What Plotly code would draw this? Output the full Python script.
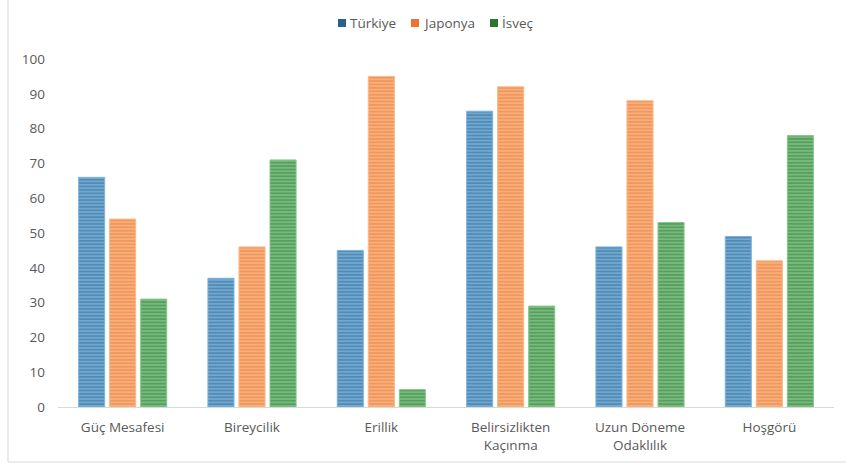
import plotly.graph_objects as go

categories = ["Güç Mesafesi", "Bireycilik", "Erillik", "Belirsizlikten<br>Kaçınma", "Uzun Döneme<br>Odaklılık", "Hoşgörü"]
turkiye = [66, 37, 45, 85, 46, 49]
japonya = [54, 46, 95, 92, 88, 42]
isvec = [31, 71, 5, 29, 53, 78]
series_names = ["Türkiye", "Japonya", "İsveç"]
tick_vals = [0, 10, 20, 30, 40, 50, 60, 70, 80, 90, 100]

styles = [
    ("#28628C", "#7DB4DC"),
    ("#EC7330", "#F8B888"),
    ("#27772E", "#86C68C"),
]

FONT = "Open Sans, Lato, sans-serif"
L, R, T, B = 58, 12, 59, 65
W, H = 846, 472
pw, ph = W - L - R, H - T - B

def px_x(px):
    return (px - L) / pw

def px_y(py):
    return (H - B - py) / ph

fig = go.Figure()
for name, vals, (fg, bg) in zip(series_names, [turkiye, japonya, isvec], styles):
    fig.add_trace(go.Bar(
        name=name, x=categories, y=vals, showlegend=False,
        marker=dict(
            color=bg,
            line=dict(color=bg, width=1),
            pattern=dict(shape="-", fgcolor=fg, bgcolor=bg, size=3.4, solidity=0.65, fillmode="overlay"),
        ),
    ))

# custom compact legend
legend_x = [338, 411, 490]
for name, lx, (fg, bg) in zip(series_names, legend_x, styles):
    fig.add_shape(type="rect", xref="paper", yref="paper",
                  x0=px_x(lx), x1=px_x(lx + 8), y0=px_y(27), y1=px_y(19),
                  fillcolor=fg, line=dict(color=fg, width=0))
    fig.add_annotation(xref="paper", yref="paper", x=px_x(lx + 10), y=px_y(23),
                       text=name, showarrow=False, xanchor="left", yanchor="middle",
                       font=dict(family=FONT, size=13.5, color="#595959"))

fig.update_layout(
    width=W, height=H,
    margin=dict(l=L, r=R, t=T, b=B, autoexpand=False),
    paper_bgcolor="white", plot_bgcolor="white",
    barmode="group", bargap=0.28, bargroupgap=0.16,
    font=dict(family=FONT, size=13.5, color="#595959"),
    showlegend=False,
)
fig.update_yaxes(range=[0, 100], tickvals=tick_vals, showgrid=False, zeroline=False,
                 showline=False, ticks="", ticklabelstandoff=12,
                 tickfont=dict(size=13.5, color="#595959"))
fig.update_xaxes(showgrid=False, showline=True, linecolor="#D9D9D9", linewidth=1,
                 ticks="", ticklabelstandoff=8, tickfont=dict(size=13.5, color="#595959"))

# outer frame lines (left and bottom)
fig.add_shape(type="line", xref="paper", yref="paper", x0=px_x(8), x1=px_x(8), y0=px_y(462), y1=px_y(-5),
              line=dict(color="#D9D9D9", width=1))
fig.add_shape(type="line", xref="paper", yref="paper", x0=px_x(8), x1=px_x(850), y0=px_y(462), y1=px_y(462),
              line=dict(color="#D9D9D9", width=1))

fig.write_html("out.html")
